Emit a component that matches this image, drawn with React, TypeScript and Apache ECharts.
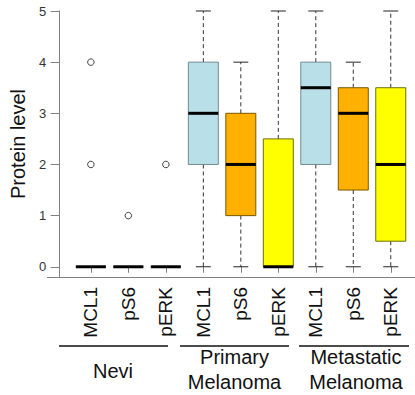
import React, { useEffect, useRef } from "react";
import * as echarts from "echarts";

const groups = ["Nevi", "Primary\nMelanoma", "Metastatic\nMelanoma"];
const markers = ["MCL1", "pS6", "pERK"];
const markerColors = ["#B9E0E8", "#FFB000", "#FFFF00"];
const markerBorders = ["#6f8a92", "#7a5600", "#6e6e00"];

// [min, q1, median, q3, max] per box, in order Nevi(MCL1,pS6,pERK), Primary(...), Metastatic(...)
const boxStats: number[][] = [
  [0, 0, 0, 0, 0],
  [0, 0, 0, 0, 0],
  [0, 0, 0, 0, 0],
  [0, 2, 3, 4, 5],
  [0, 1, 2, 3, 4],
  [0, 0, 0, 2.5, 5],
  [0, 2, 3.5, 4, 5],
  [0, 1.5, 3, 3.5, 4],
  [0, 0.5, 2, 3.5, 5],
];

// [box index, value]
const outliers: number[][] = [
  [0, 4],
  [0, 2],
  [1, 1],
  [2, 2],
];

const yTicks = [0, 1, 2, 3, 4, 5];

const FONT = 'Arial, "Liberation Sans", Helvetica, sans-serif';

export default function App() {
  const ref = useRef<HTMLDivElement>(null);
  useEffect(() => {
    if (!ref.current) return;
    const prevMargin = document.body.style.margin;
    document.body.style.margin = "0";
    const chart = echarts.init(ref.current, null, { renderer: "svg" });
    const categories: string[] = [];
    groups.forEach((g, gi) =>
      markers.forEach((m) => categories.push(`${gi}|${m}`))
    );
    const boxData = boxStats.map((s, i) => [i, ...s]);

    const gridLeft = 59.5;
    const gridWidth = 350;
    const gridTop = 11;
    const gridHeight = 266;
    const axisY = gridTop + gridHeight;

    const groupLines = [
      [59, 168],
      [180, 289],
      [299, 409],
    ];
    const groupCenters = [113, 234.5, 356];

    const graphics: any[] = [
      {
        type: "line",
        shape: { x1: 47, y1: axisY + 0.5, x2: 415, y2: axisY + 0.5 },
        style: { stroke: "#808080", lineWidth: 1 },
        silent: true,
      },
    ];
    groupLines.forEach(([a, b]) =>
      graphics.push({
        type: "line",
        shape: { x1: a, y1: 346, x2: b, y2: 346 },
        style: { stroke: "#111", lineWidth: 1.5 },
        silent: true,
      })
    );
    groups.forEach((g, gi) => {
      const lines = g.split("\n");
      const ys = lines.length === 1 ? [370.6] : [357.4, 382.4];
      lines.forEach((t, li) =>
        graphics.push({
          type: "text",
          x: groupCenters[gi],
          y: ys[li],
          style: {
            text: t,
            fontSize: 20,
            fontFamily: FONT,
            fill: "#111",
            textAlign: "center",
            textVerticalAlign: "middle",
          },
          silent: true,
        })
      );
    });

    chart.setOption({
      animation: false,
      backgroundColor: "#fff",
      grid: { left: gridLeft, top: gridTop, width: gridWidth, height: gridHeight },
      xAxis: {
        type: "category",
        data: categories,
        boundaryGap: true,
        axisLine: { show: false },
        axisTick: {
          show: true,
          alignWithLabel: true,
          length: 6,
          lineStyle: { color: "#808080" },
        },
        axisLabel: {
          rotate: 90,
          margin: 10,
          fontSize: 19,
          fontFamily: FONT,
          color: "#111",
          interval: 0,
          formatter: (v: string) => v.split("|")[1],
        },
        splitLine: { show: false },
      },
      yAxis: {
        type: "value",
        min: -0.2,
        max: 5,
        offset: 12.5,
        name: "Protein level",
        nameLocation: "middle",
        nameGap: 22,
        nameTextStyle: { fontSize: 20, fontFamily: FONT, color: "#111" },
        axisLine: { show: true, lineStyle: { color: "#808080" } },
        axisTick: {
          show: true,
          length: 9,
          customValues: yTicks,
          lineStyle: { color: "#808080" },
        },
        axisLabel: {
          customValues: yTicks,
          margin: 13.5,
          fontSize: 13,
          fontFamily: FONT,
          color: "#333",
        },
        splitLine: { show: false },
      },
      graphic: graphics,
      series: [
        {
          type: "custom",
          clip: false,
          encode: { x: 0, y: [1, 2, 3, 4, 5] },
          data: boxData,
          renderItem: (params: any, api: any) => {
            const idx = api.value(0);
            const mi = params.dataIndex % 3;
            const pMin = api.coord([idx, api.value(1)]);
            const pQ1 = api.coord([idx, api.value(2)]);
            const pMed = api.coord([idx, api.value(3)]);
            const pQ3 = api.coord([idx, api.value(4)]);
            const pMax = api.coord([idx, api.value(5)]);
            const bw = api.size([1, 0])[0] * 0.8;
            const cx = pMed[0];
            const capW = bw / 2;
            const dash = { stroke: "#333", lineWidth: 1, lineDash: [4, 3] };
            const solid = { stroke: "#222", lineWidth: 1 };
            return {
              type: "group",
              children: [
                {
                  type: "line",
                  shape: { x1: cx, y1: pQ3[1], x2: cx, y2: pMax[1] },
                  style: dash,
                },
                {
                  type: "line",
                  shape: { x1: cx, y1: pQ1[1], x2: cx, y2: pMin[1] },
                  style: dash,
                },
                {
                  type: "line",
                  shape: { x1: cx - capW / 2, y1: pMax[1], x2: cx + capW / 2, y2: pMax[1] },
                  style: solid,
                },
                {
                  type: "line",
                  shape: { x1: cx - capW / 2, y1: pMin[1], x2: cx + capW / 2, y2: pMin[1] },
                  style: solid,
                },
                {
                  type: "rect",
                  shape: {
                    x: cx - bw / 2,
                    y: pQ3[1],
                    width: bw,
                    height: pQ1[1] - pQ3[1],
                  },
                  style: {
                    fill: markerColors[mi],
                    stroke: markerBorders[mi],
                    lineWidth: 1,
                  },
                },
                {
                  type: "line",
                  shape: { x1: cx - bw / 2, y1: pMed[1], x2: cx + bw / 2, y2: pMed[1] },
                  style: { stroke: "#000", lineWidth: 3 },
                },
              ],
            };
          },
          z: 2,
        },
        {
          type: "scatter",
          data: outliers,
          symbol: "circle",
          symbolSize: 6.5,
          itemStyle: { color: "#fff", borderColor: "#111", borderWidth: 1 },
          z: 3,
        },
      ],
    });
    return () => {
      chart.dispose();
      document.body.style.margin = prevMargin;
    };
  }, []);
  return <div ref={ref} style={{ width: 415, height: 395 }} />;
}
